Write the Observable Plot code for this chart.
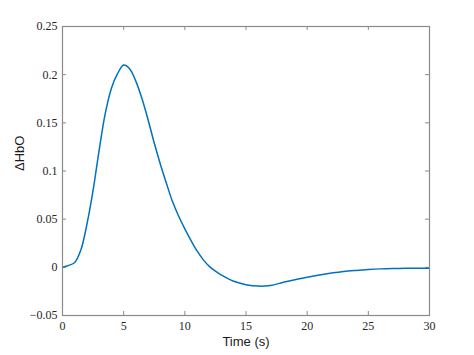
<!DOCTYPE html>
<html>
<head>
<meta charset="utf-8">
<script src="https://cdn.jsdelivr.net/npm/d3@7"></script>
<script src="https://cdn.jsdelivr.net/npm/@observablehq/plot@0.6"></script>
<style>
  html, body { margin: 0; padding: 0; background: #fff; }
  #chart { width: 474px; height: 355px; }
</style>
</head>
<body>
<div id="chart"></div>
<script>
const timeS = [0, 0.5, 1, 1.5, 2, 2.5, 3, 3.5, 4, 4.5, 5, 5.5, 6, 6.5, 7, 7.5, 8, 8.5, 9, 9.5, 10, 10.5, 11, 11.5, 12, 12.5, 13, 14, 15, 16, 17, 18, 19, 20, 21, 22, 23, 24, 25, 26, 27, 28, 29, 30];
const dHbO = [0, 0.002, 0.005, 0.018, 0.045, 0.080, 0.122, 0.160, 0.186, 0.201, 0.21, 0.206, 0.193, 0.175, 0.153, 0.129, 0.107, 0.087, 0.068, 0.053, 0.04, 0.028, 0.017, 0.008, 0.001, -0.004, -0.008, -0.0145, -0.0180, -0.0195, -0.0188, -0.0158, -0.0128, -0.0103, -0.008, -0.006, -0.0043, -0.0032, -0.0023, -0.0016, -0.0012, -0.001, -0.001, -0.001];
const xTicks = [0, 5, 10, 15, 20, 25, 30];
const yTicks = [-0.05, 0, 0.05, 0.1, 0.15, 0.2, 0.25];
const xLabel = "Time (s)";
const yLabel = "\u0394HbO";

const data = timeS.map((t, i) => ({t, v: dHbO[i]}));

const W = 474, H = 355;
const mL = 62, mR = 45, mT = 26, mB = 40;
const innerH = H - mT - mB;
const innerW = W - mL - mR;
const tickLen = 4;
const axisColor = "#8a8a8a";
const serif = "'Liberation Serif', 'DejaVu Serif', serif";
const sans = "'Liberation Sans', Arial, sans-serif";
const fmt = d3.format("");

const chart = Plot.plot({
  width: W,
  height: H,
  marginLeft: mL,
  marginRight: mR,
  marginTop: mT,
  marginBottom: mB,
  style: {background: "#fff", overflow: "visible", fontFamily: serif, fontSize: "12px"},
  x: {domain: [0, 30]},
  y: {domain: [-0.05, 0.25]},
  marks: [
    Plot.axisX(xTicks, {tickSize: 0, tickPadding: 6, tickFormat: fmt, fontSize: 12, fill: "#262626", label: null}),
    Plot.axisY(yTicks, {tickSize: 0, tickPadding: 5, tickFormat: fmt, fontSize: 12, fill: "#262626", label: null}),
    Plot.tickX(xTicks, {x: d => d, insetTop: innerH - tickLen, stroke: axisColor}),
    Plot.tickX(xTicks, {x: d => d, insetBottom: innerH - tickLen, stroke: axisColor}),
    Plot.tickY(yTicks, {y: d => d, insetRight: innerW - tickLen, stroke: axisColor}),
    Plot.tickY(yTicks, {y: d => d, insetLeft: innerW - tickLen, stroke: axisColor}),
    Plot.line(data, {x: "t", y: "v", stroke: "#0072BD", strokeWidth: 1.5, curve: "catmull-rom"}),
    Plot.frame({stroke: axisColor, strokeWidth: 1.2}),
    Plot.text([xLabel], {text: d => d, frameAnchor: "bottom", dy: 30, fontSize: 13, fontFamily: sans, fill: "#1a1a1a"}),
    Plot.text([yLabel], {text: d => d, frameAnchor: "left", dx: -43, rotate: -90, fontSize: 13, fontFamily: sans, fill: "#1a1a1a"})
  ]
});
document.getElementById("chart").appendChild(chart);
</script>
</body>
</html>
